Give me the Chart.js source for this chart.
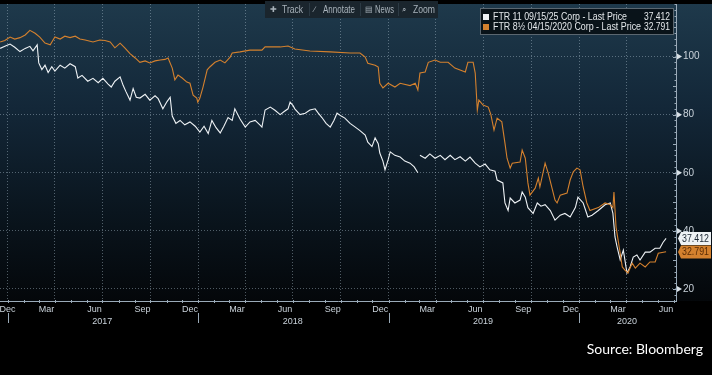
<!DOCTYPE html>
<html>
<head>
<meta charset="utf-8">
<script src="https://cdn.jsdelivr.net/npm/chart.js@4.4.1/dist/chart.umd.min.js"></script>
<style>
  html, body { margin: 0; padding: 0; background: #000; }
  #wrap { position: relative; width: 712px; height: 375px; }
  #source { position: absolute; right: 9px; top: 340px; color: #fff; font: 14px Lato, 'Open Sans', sans-serif; }
</style>
</head>
<body>
<div id="wrap">
  <canvas id="chart" width="712" height="375"></canvas>
  <div id="source">Source: Bloomberg</div>
</div>
<script>
// ----- data -----
const ftr11Label = 'FTR 11 09/15/25 Corp - Last Price';
const ftr85Label = 'FTR 8\u00BD 04/15/2020 Corp - Last Price';
const lastPrices = ['37.412', '32.791'];

const ftr11Dates = [
  '2016-12-17','2016-12-26','2017-01-05','2017-01-14','2017-01-24','2017-02-03','2017-02-12','2017-02-18','2017-02-26',
  '2017-03-01','2017-03-07','2017-03-13','2017-03-19','2017-03-26','2017-04-01','2017-04-11','2017-04-20','2017-04-30',
  '2017-05-10','2017-05-15','2017-05-23','2017-06-03','2017-06-13','2017-06-23','2017-07-02','2017-07-12','2017-07-18',
  '2017-07-25','2017-08-04','2017-08-10','2017-08-15','2017-08-23','2017-08-29','2017-09-04','2017-09-11','2017-09-21',
  '2017-09-30','2017-10-10','2017-10-16','2017-10-25','2017-11-02','2017-11-08','2017-11-12','2017-11-19','2017-11-27',
  '2017-12-06','2017-12-16','2017-12-26','2018-01-04','2018-01-12','2018-01-20','2018-01-27','2018-02-04','2018-02-12',
  '2018-02-19','2018-02-27','2018-03-07','2018-03-12','2018-03-22','2018-04-01','2018-04-10','2018-04-20','2018-04-29',
  '2018-05-03','2018-05-09','2018-05-19','2018-05-28','2018-06-07','2018-06-14','2018-06-22','2018-06-26','2018-07-02',
  '2018-07-05','2018-07-15','2018-07-25','2018-08-03','2018-08-13','2018-08-19','2018-08-26','2018-09-03','2018-09-11',
  '2018-09-18','2018-09-24','2018-10-02','2018-10-09','2018-10-19','2018-10-29','2018-11-07','2018-11-17','2018-11-22',
  '2018-11-30','2018-12-06','2018-12-12','2018-12-15','2018-12-21','2018-12-25','2018-12-31','2019-01-04','2019-01-13',
  '2019-01-23','2019-02-01','2019-02-11','2019-02-19','2019-02-26','2019-02-28','2019-03-02','2019-03-12','2019-03-21',
  '2019-03-31','2019-04-10','2019-04-19','2019-04-29','2019-05-08','2019-05-18','2019-05-28','2019-06-06','2019-06-16',
  '2019-06-25','2019-07-05','2019-07-14','2019-07-24','2019-07-28','2019-08-08','2019-08-12','2019-08-18','2019-08-22',
  '2019-08-31','2019-09-10','2019-09-14','2019-09-20','2019-09-25','2019-10-05','2019-10-13','2019-10-20','2019-10-28',
  '2019-11-07','2019-11-16','2019-11-26','2019-12-05','2019-12-15','2019-12-25','2019-12-30','2020-01-09','2020-01-18',
  '2020-01-26','2020-02-07','2020-02-20','2020-03-01','2020-03-06','2020-03-10','2020-03-14','2020-03-20','2020-03-26',
  '2020-04-02','2020-04-08','2020-04-14','2020-04-21','2020-04-27','2020-05-07','2020-05-16','2020-05-26','2020-06-04',
  '2020-06-10','2020-06-16'
];
const ftr11Values = [
  102.8,103.5,104.3,103.2,101.7,102.8,103.5,102.0,104.0,
  97.8,95.5,97.0,94.5,96.5,95.0,97.0,96.0,97.5,
  96.5,92.6,93.5,91.5,92.5,91.0,92.5,90.5,89.5,
  91.5,93.0,90.0,88.0,85.0,89.0,86.0,85.7,87.0,
  85.0,86.5,85.5,82.0,84.5,86.0,79.5,77.0,78.0,
  76.5,77.5,76.0,74.0,76.0,73.5,78.0,75.5,73.7,
  76.0,79.0,78.0,82.0,78.5,75.7,77.5,78.0,76.5,
  75.7,81.6,82.6,81.5,80.0,81.0,82.0,84.3,83.0,
  82.0,80.0,80.5,81.6,82.0,80.5,79.0,77.0,75.7,
  78.0,80.5,79.5,78.8,77.0,75.7,74.5,73.0,70.5,
  69.0,72.0,70.0,66.8,64.0,61.0,64.5,67.2,66.0,
  65.4,64.0,63.3,62.0,60.0,null,66.0,65.0,66.5,
  65.0,66.0,64.5,66.0,64.5,65.5,64.0,65.4,63.3,
  62.0,63.0,61.0,60.5,57.5,56.5,49.6,47.0,51.3,
  49.6,50.6,53.4,51.6,48.0,46.0,49.6,48.5,49.0,
  47.0,43.7,45.4,46.0,44.8,48.0,51.6,49.6,44.8,
  45.4,47.0,49.0,49.6,46.0,37.9,34.5,30.0,33.4,
  25.5,27.6,31.0,31.7,30.0,32.7,32.7,34.0,34.0,
  36.0,37.4
];

const ftr85Dates = [
  '2016-12-17','2016-12-26','2017-01-05','2017-01-14','2017-01-24','2017-02-03','2017-02-12','2017-02-22','2017-03-03',
  '2017-03-13','2017-03-23','2017-04-01','2017-04-11','2017-04-20','2017-04-30','2017-05-10','2017-05-19','2017-05-29',
  '2017-06-13','2017-06-26','2017-07-06','2017-07-16','2017-07-25','2017-08-04','2017-08-13','2017-08-23','2017-09-02',
  '2017-09-11','2017-09-21','2017-09-30','2017-10-10','2017-10-20','2017-10-29','2017-11-04','2017-11-12','2017-11-17',
  '2017-11-23','2017-12-01','2017-12-10','2017-12-16','2017-12-22','2017-12-29','2017-12-31','2018-01-04','2018-01-10',
  '2018-01-18','2018-01-23','2018-02-02','2018-02-12','2018-02-21','2018-03-03','2018-03-07','2018-03-22','2018-04-10',
  '2018-05-03','2018-05-09','2018-06-07','2018-06-22','2018-07-05','2018-08-03','2018-09-11','2018-10-19','2018-11-07',
  '2018-11-17','2018-11-22','2018-12-06','2018-12-12','2018-12-15','2018-12-21','2018-12-31','2019-01-13','2019-01-23',
  '2019-02-11','2019-02-21','2019-02-26','2019-03-02','2019-03-12','2019-03-18','2019-03-31','2019-04-10','2019-04-25',
  '2019-05-08','2019-05-28','2019-06-02','2019-06-12','2019-06-16','2019-06-20','2019-06-23','2019-07-01','2019-07-11',
  '2019-07-16','2019-07-22','2019-07-28','2019-08-06','2019-08-12','2019-08-16','2019-08-22','2019-08-26','2019-09-10',
  '2019-09-14','2019-09-20','2019-09-25','2019-09-29','2019-10-09','2019-10-15','2019-10-18','2019-10-28','2019-11-03',
  '2019-11-16','2019-11-20','2019-11-26','2019-12-09','2019-12-15','2019-12-21','2019-12-28','2020-01-03','2020-01-09',
  '2020-01-16','2020-01-22','2020-02-07','2020-02-20','2020-03-01','2020-03-06','2020-03-08','2020-03-12','2020-03-16',
  '2020-03-20','2020-03-24','2020-03-29','2020-04-04','2020-04-12','2020-04-18','2020-04-27','2020-05-07','2020-05-16',
  '2020-05-26','2020-06-01','2020-06-16'
];
const ftr85Values = [
  105.0,105.5,106.7,106.0,106.5,107.4,109.0,108.0,106.7,
  104.6,104.0,106.7,106.0,107.0,106.5,107.0,106.0,105.7,
  105.0,105.7,105.5,105.0,103.0,104.6,103.0,101.0,99.5,
  98.0,98.5,97.8,98.5,98.8,99.0,99.5,96.0,92.0,
  93.6,92.6,91.2,90.8,86.7,85.7,84.3,85.7,89.5,
  95.4,96.4,98.0,98.8,97.8,99.8,101.2,101.6,102.2,
  102.2,103.3,103.3,103.6,102.6,101.9,101.6,101.2,101.2,
  99.8,97.7,97.0,96.4,90.8,89.2,90.8,89.5,90.8,
  90.0,90.8,88.5,94.3,94.7,98.0,98.8,98.0,98.0,
  96.0,94.7,98.0,98.0,94.3,81.6,85.0,83.3,82.6,
  80.0,74.7,78.8,77.5,70.2,65.0,61.6,63.3,63.7,
  67.8,65.0,56.5,52.3,54.7,58.2,55.1,63.3,59.9,
  50.6,49.6,52.3,53.0,57.5,60.3,61.6,61.0,55.1,
  49.6,47.0,48.0,49.6,49.0,48.0,53.4,41.3,36.8,
  32.3,27.6,26.5,25.5,28.9,27.2,28.9,27.6,29.3,
  29.3,32.3,32.8
];

// axis ticks
const yTickValues = [20, 40, 60, 80, 100];
const monthTickDates = ['2016-12-31','2017-03-16','2017-06-16','2017-09-16','2017-12-16','2018-03-16','2018-06-16',
  '2018-09-16','2018-12-16','2019-03-16','2019-06-16','2019-09-16','2019-12-16','2020-03-16','2020-06-16'];
const monthTickLabels = ['Dec','Mar','Jun','Sep','Dec','Mar','Jun','Sep','Dec','Mar','Jun','Sep','Dec','Mar','Jun'];
const gridDates = ['2017-01-01','2017-04-01','2017-07-01','2017-10-01','2018-01-01','2018-04-01','2018-07-01',
  '2018-10-01','2019-01-01','2019-04-01','2019-07-01','2019-10-01','2020-01-01','2020-04-01'];
const yearTickDates = ['2017-07-01','2018-07-01','2019-07-01','2020-04-02'];
const yearLabels = ['2017','2018','2019','2020'];

// ----- helpers -----
const BASE = Date.UTC(2017, 0, 1);
function dayNum(s) {
  const [y, m, d] = s.split('-').map(Number);
  return (Date.UTC(y, m - 1, d) - BASE) / 86400000;
}
const X_MIN = -15.3, X_MAX = 1281;
const FONT = "'Liberation Sans', Arial, sans-serif";
const TXT = '#c9d2da';
const GRID = 'rgba(170, 190, 205, 0.45)';
const AXIS = '#9aaab8';
const WHITE = '#eef2f5';
const ORANGE = '#d4812e';

const whitePts = ftr11Dates.map((d, i) => ({ x: dayNum(d), y: ftr11Values[i] }));
const orangePts = ftr85Dates.map((d, i) => ({ x: dayNum(d), y: ftr85Values[i] }));

function noPad(scale) {
  scale.paddingLeft = 0; scale.paddingRight = 0;
  scale.paddingTop = 0; scale.paddingBottom = 0;
}

// draw text squeezed to a given width (the terminal font is narrow)
function fitText(ctx, text, x, y, w, align) {
  const k = Math.max(0.6, Math.min(1.15, w / ctx.measureText(text).width));
  ctx.save();
  ctx.translate(x, y);
  ctx.scale(k, 1);
  ctx.textAlign = align || 'left';
  ctx.fillText(text, 0, 0);
  ctx.restore();
}

// background, axis decorations, tags, legend and toolbar
const decor = {
  id: 'decor',
  beforeDraw(chart) {
    const { ctx, chartArea: a, width, height } = chart;
    ctx.save();
    ctx.fillStyle = '#000';
    ctx.fillRect(0, 0, width, height);
    const g = ctx.createLinearGradient(0, a.top, 0, a.bottom);
    g.addColorStop(0, '#1e394b');
    g.addColorStop(0.35, '#132738');
    g.addColorStop(0.7, '#0a151e');
    g.addColorStop(1, '#04070a');
    ctx.fillStyle = g;
    ctx.fillRect(0, a.top, width, a.bottom - a.top);
    ctx.restore();
  },
  afterDraw(chart) {
    const { ctx, chartArea: a } = chart;
    const xs = chart.scales.x, ys = chart.scales.y;
    ctx.save();
    ctx.strokeStyle = AXIS;
    ctx.lineWidth = 1;

    // monthly tick marks and year separators
    for (let yr = 2017; yr <= 2020; yr++) {
      for (let m = 1; m <= 12; m++) {
        const px = Math.round(xs.getPixelForValue((Date.UTC(yr, m - 1, 1) - BASE) / 86400000)) + 0.5;
        if (px > a.right) break;
        ctx.beginPath(); ctx.moveTo(px, a.bottom - 1); ctx.lineTo(px, a.bottom + 2); ctx.stroke();
        if (m === 1) {
          ctx.beginPath(); ctx.moveTo(px, a.bottom + 12); ctx.lineTo(px, a.bottom + 22); ctx.stroke();
        }
      }
    }

    // y minor ticks and arrow markers
    for (let v = 16; v <= 118; v += 2) {
      const py = Math.round(ys.getPixelForValue(v)) + 0.5;
      const len = v % 10 === 0 ? 3 : 1.5;
      ctx.beginPath(); ctx.moveTo(a.right - len, py); ctx.lineTo(a.right, py); ctx.stroke();
    }
    ctx.fillStyle = '#d8e0e6';
    yTickValues.forEach(v => {
      const py = ys.getPixelForValue(v);
      ctx.beginPath();
      ctx.moveTo(a.right + 1, py - 3); ctx.lineTo(a.right + 6, py); ctx.lineTo(a.right + 1, py + 3);
      ctx.closePath(); ctx.fill();
    });

    // last price tags
    const tags = [[lastPrices[0], WHITE, '#1b2733'], [lastPrices[1], ORANGE, '#5a2c05']];
    ctx.font = '10px ' + FONT;
    ctx.textBaseline = 'middle';
    tags.forEach(([txt, bg, fg], i) => {
      let py = ys.getPixelForValue(parseFloat(txt));
      if (i === 1) py = Math.max(py, ys.getPixelForValue(parseFloat(lastPrices[0])) + 13.5);
      ctx.fillStyle = bg;
      ctx.beginPath();
      ctx.moveTo(a.right + 2, py);
      ctx.lineTo(a.right + 5, py - 6.5);
      ctx.lineTo(711, py - 6.5);
      ctx.lineTo(711, py + 6.5);
      ctx.lineTo(a.right + 5, py + 6.5);
      ctx.closePath();
      ctx.fill();
      ctx.fillStyle = fg;
      fitText(ctx, txt, a.right + 6, py + 0.5, 27);
    });

    // legend box
    ctx.fillStyle = 'rgba(8, 16, 22, 0.92)';
    ctx.fillRect(480, 8, 194, 27);
    ctx.strokeStyle = '#5b6770';
    ctx.strokeRect(480.5, 8.5, 193, 26);
    const rows = [[ftr11Label, lastPrices[0], WHITE, 134], [ftr85Label, lastPrices[1], ORANGE, 148]];
    rows.forEach(([lbl, val, col, w], i) => {
      const cy = 17 + i * 10;
      ctx.fillStyle = col;
      ctx.fillRect(483, cy - 3, 6, 6);
      ctx.fillStyle = '#e4e8eb';
      fitText(ctx, lbl, 493, cy + 0.5, w, 'left');
      fitText(ctx, val, 670, cy + 0.5, 26, 'right');
    });

    // toolbar
    ctx.fillStyle = '#1a252d';
    ctx.fillRect(265, 1, 173, 17);
    ctx.strokeStyle = '#2c3a44';
    [309, 360, 398].forEach(sx => {
      ctx.beginPath(); ctx.moveTo(sx + 0.5, 3); ctx.lineTo(sx + 0.5, 16); ctx.stroke();
    });
    ctx.fillStyle = '#a9b3bb';
    [['Track', 282, 21], ['Annotate', 323, 32], ['News', 375, 19], ['Zoom', 413, 22]]
      .forEach(([t, tx, w]) => fitText(ctx, t, tx, 10, w, 'left'));
    ctx.font = '8px ' + FONT;
    [['\u271A', 270], ['\u2215', 314], ['\u25A4', 365], ['\u2315', 402]]
      .forEach(([t, tx]) => { ctx.textAlign = 'left'; ctx.fillText(t, tx, 10); });
    ctx.restore();
  }
};

new Chart(document.getElementById('chart'), {
  type: 'line',
  data: {
    datasets: [
      { label: ftr11Label, data: whitePts, borderColor: WHITE, borderWidth: 1.1, pointRadius: 0, tension: 0, spanGaps: false, order: 2 },
      { label: ftr85Label, data: orangePts, borderColor: ORANGE, borderWidth: 1.1, pointRadius: 0, tension: 0, order: 1 }
    ]
  },
  options: {
    responsive: false,
    animation: false,
    devicePixelRatio: 1,
    layout: { padding: { top: 4, left: 0, right: 0, bottom: 0 }, autoPadding: false },
    plugins: { legend: { display: false }, tooltip: { enabled: false } },
    scales: {
      x: {
        type: 'linear',
        position: 'bottom',
        weight: 0,
        min: X_MIN,
        max: X_MAX,
        afterBuildTicks: (s) => {
          const t = gridDates.map(d => ({ value: dayNum(d), grid: true, lbl: '' }))
            .concat(monthTickDates.map((d, i) => ({ value: dayNum(d), grid: false, lbl: monthTickLabels[i] })));
          t.sort((p, q) => p.value - q.value);
          s.ticks = t;
        },
        afterFit: (s) => { s.height = 13; noPad(s); },
        ticks: {
          autoSkip: false, maxRotation: 0, padding: 3, color: TXT,
          font: { family: FONT, size: 9 },
          callback: (v, i, ticks) => ticks[i].lbl
        },
        grid: {
          drawTicks: false,
          lineWidth: 1,
          color: (c) => (c.tick && c.tick.grid ? GRID : 'rgba(0,0,0,0)')
        },
        border: { display: true, color: AXIS, width: 1, dash: [1, 2] }
      },
      xYear: {
        type: 'linear',
        position: 'bottom',
        weight: 1,
        min: X_MIN,
        max: X_MAX,
        afterBuildTicks: (s) => { s.ticks = yearTickDates.map(d => ({ value: dayNum(d) })); },
        afterFit: (s) => { s.height = 375 - 301 - 13; noPad(s); },
        ticks: {
          autoSkip: false, maxRotation: 0, padding: 2, color: TXT,
          font: { family: FONT, size: 9 },
          callback: (v, i) => yearLabels[i]
        },
        grid: { display: false, drawTicks: false },
        border: { display: false }
      },
      y: {
        type: 'linear',
        position: 'right',
        min: 15.87,
        max: 118.07,
        afterBuildTicks: (s) => { s.ticks = yTickValues.map(v => ({ value: v })); },
        afterFit: (s) => { s.width = 36; noPad(s); },
        ticks: { padding: 7, color: TXT, font: { family: FONT, size: 10 } },
        grid: { drawTicks: false, color: GRID, lineWidth: 1 },
        border: { display: true, color: AXIS, width: 1, dash: [1, 2] }
      }
    }
  },
  plugins: [decor]
});
</script>
</body>
</html>
